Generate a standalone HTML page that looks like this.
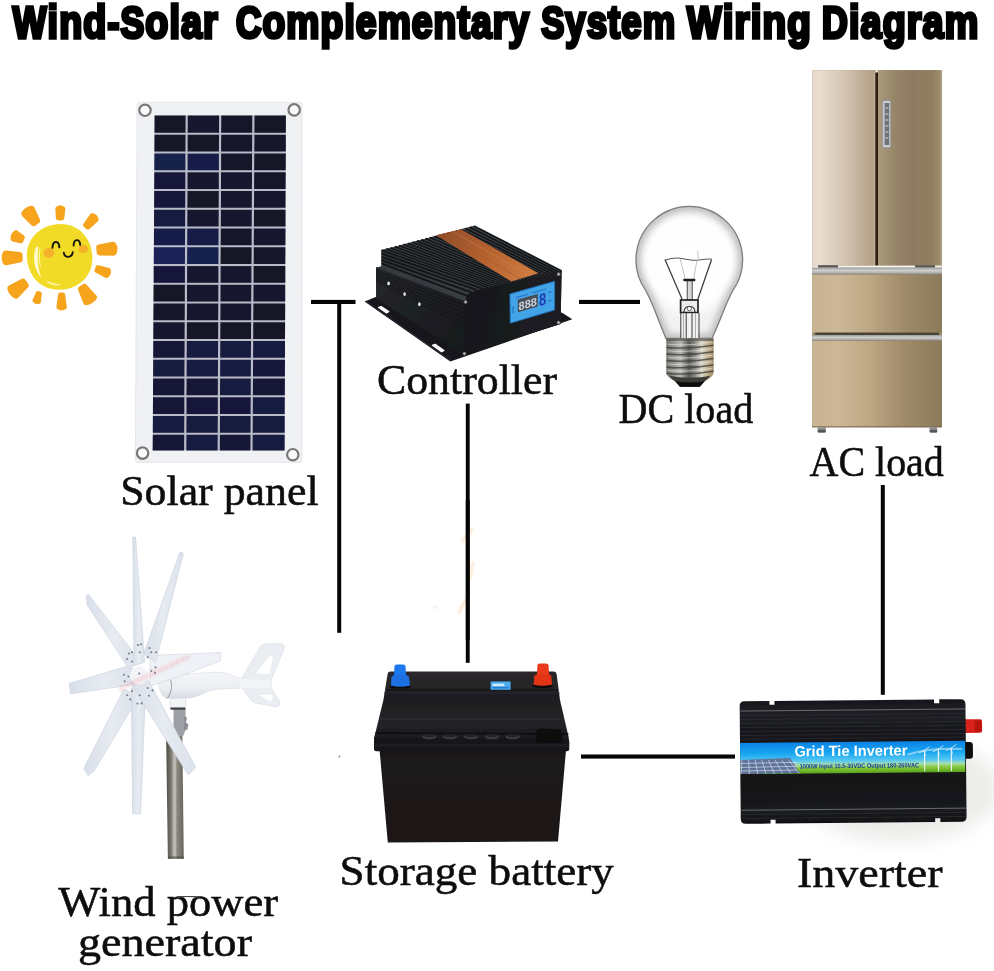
<!DOCTYPE html>
<html lang="en">
<head>
<meta charset="utf-8">
<title>Wind-Solar Complementary System Wiring Diagram</title>
<style>
html,body{margin:0;padding:0;background:#fff;}
body{width:994px;height:971px;overflow:hidden;position:relative;}
svg{display:block;position:absolute;left:0;top:0;}
.ttl{font-family:"Liberation Sans","DejaVu Sans",sans-serif;font-weight:700;fill:#000;stroke:#000;}
.lbl{font-family:"Liberation Serif","DejaVu Serif",serif;fill:#0a0a0a;}
.sans{font-family:"Liberation Sans","DejaVu Sans",sans-serif;}
</style>
</head>
<body>
<svg width="994" height="971" viewBox="0 0 994 971">
<rect width="994" height="971" fill="#ffffff"/>
<!-- defs -->
<defs>
<filter id="soft" x="-5%" y="-5%" width="110%" height="110%"><feGaussianBlur stdDeviation="0.55"/></filter>
<filter id="soft2" x="-5%" y="-5%" width="110%" height="110%"><feGaussianBlur stdDeviation="0.9"/></filter>
<filter id="blur3" x="-10%" y="-10%" width="120%" height="120%"><feGaussianBlur stdDeviation="3"/></filter>
<filter id="softT" x="-2%" y="-20%" width="104%" height="140%"><feGaussianBlur stdDeviation="0.45"/></filter>
<filter id="blur8" x="-30%" y="-30%" width="160%" height="160%"><feGaussianBlur stdDeviation="9"/></filter>
</defs>
<!-- wires -->
<g fill="#050505">
<rect x="311" y="299.9" width="44.5" height="4.1"/>
<rect x="337.2" y="300" width="4" height="332.8"/>
<rect x="579" y="299.9" width="61" height="4.1"/>
<rect x="465.8" y="403.6" width="3.9" height="259.2"/>
<rect x="581" y="754.5" width="154" height="4.1"/>
<rect x="880.8" y="485" width="4" height="209.8"/>
</g>
<g fill="none" stroke="#F6B26B" stroke-linecap="round" filter="url(#soft2)" opacity="0.4">
<path d="M462.5,541 L472.5,529" stroke-width="2.2"/>
<path d="M470.5,578 L473,562" stroke-width="2"/>
<path d="M459,613 L466.5,598" stroke-width="2.2"/>
<path d="M433,608 L437,606" stroke-width="1.6" stroke="#C8C8C8"/>
</g>
<rect x="465.8" y="500" width="3.9" height="140" fill="#050505"/>
<path d="M338.6,757.6 l1.6,-2.2" stroke="#9A9A9A" stroke-width="1.2" fill="none"/>
<!-- title -->
<text class="ttl" filter="url(#softT)" transform="translate(12.80,37.5) scale(0.8099,1)" font-size="44" stroke-width="3.6" letter-spacing="1.4" stroke-linejoin="miter" stroke-miterlimit="3">W<tspan font-size="46.5">ind</tspan>-S<tspan font-size="46.5">olar</tspan></text>
<text class="ttl" filter="url(#softT)" transform="translate(236.00,37.5) scale(0.7999,1)" font-size="44" stroke-width="3.6" letter-spacing="1.4" stroke-linejoin="miter" stroke-miterlimit="3">C<tspan font-size="46.5">omplementary</tspan></text>
<text class="ttl" filter="url(#softT)" transform="translate(541.20,37.5) scale(0.7847,1)" font-size="44" stroke-width="3.6" letter-spacing="1.4" stroke-linejoin="miter" stroke-miterlimit="3">S<tspan font-size="46.5">ystem</tspan></text>
<text class="ttl" filter="url(#softT)" transform="translate(687.00,37.5) scale(0.8303,1)" font-size="44" stroke-width="3.6" letter-spacing="1.4" stroke-linejoin="miter" stroke-miterlimit="3">W<tspan font-size="46.5">iring</tspan></text>
<text class="ttl" filter="url(#softT)" transform="translate(822.00,37.5) scale(0.8113,1)" font-size="44" stroke-width="3.6" letter-spacing="1.4" stroke-linejoin="miter" stroke-miterlimit="3">D<tspan font-size="46.5">iagram</tspan></text>
<!-- labels -->
<g class="lbl" font-size="42" filter="url(#softT)" stroke="#0a0a0a" stroke-width="0.5">
<text x="120.2" y="504.7" textLength="198.4" lengthAdjust="spacingAndGlyphs">Solar panel</text>
<text x="377" y="394.3" textLength="180" lengthAdjust="spacingAndGlyphs">Controller</text>
<text x="618.6" y="423.1" textLength="134.6" lengthAdjust="spacingAndGlyphs">DC load</text>
<text x="809.6" y="476.2" textLength="134.2" lengthAdjust="spacingAndGlyphs">AC load</text>
<text x="339.6" y="885.3" textLength="274.2" lengthAdjust="spacingAndGlyphs">Storage battery</text>
<text x="797" y="887.3" textLength="145.6" lengthAdjust="spacingAndGlyphs">Inverter</text>
<text x="58.3" y="915.8" textLength="219.7" lengthAdjust="spacingAndGlyphs">Wind power</text>
<text x="78" y="956.3" textLength="174" lengthAdjust="spacingAndGlyphs">generator</text>
</g>
<path d="M177,897.3 Q186,895.8 199.6,897" stroke="#444" stroke-width="1.3" fill="none" filter="url(#softT)"/>
<!-- sun -->
<g id="sun" filter="url(#soft)">
<g fill="#F5A41E" stroke="#F5A41E" stroke-width="3.2" stroke-linejoin="round">
<path transform="translate(31.6,216.6) rotate(-124.8)" stroke-width="5.88" d="M-6.56,-2.31 L6.56,-4.56 Q8.76,0 6.56,4.56 L-6.56,2.31 Z"/>
<path transform="translate(60.2,213.4) rotate(-88.0)" stroke-width="4.76" d="M-4.62,-1.87 L4.62,-2.62 Q6.82,0 4.62,2.62 L-4.62,1.87 Z"/>
<path transform="translate(90.4,221.9) rotate(-48.7)" stroke-width="4.48" d="M-5.76,-1.76 L5.76,-3.01 Q7.96,0 5.76,3.01 L-5.76,1.76 Z"/>
<path transform="translate(106.4,249.3) rotate(-5.0)" stroke-width="6.16" d="M-6.92,-2.42 L6.92,-3.92 Q9.12,0 6.92,3.92 L-6.92,2.42 Z"/>
<path transform="translate(102.4,271.0) rotate(22.0)" stroke-width="4.48" d="M-5.46,-1.76 L5.46,-3.01 Q7.66,0 5.46,3.01 L-5.46,1.76 Z"/>
<path transform="translate(86.4,293.8) rotate(58.0)" stroke-width="5.60" d="M-7.20,-2.20 L7.20,-4.90 Q9.40,0 7.20,4.90 L-7.20,2.20 Z"/>
<path transform="translate(61.6,300.9) rotate(90.0)" stroke-width="3.92" d="M-6.39,-1.54 L6.39,-3.29 Q8.59,0 6.39,3.29 L-6.39,1.54 Z"/>
<path transform="translate(37.8,297.1) rotate(105.0)" stroke-width="3.36" d="M-4.32,-1.32 L4.32,-2.67 Q6.52,0 4.32,2.67 L-4.32,1.32 Z"/>
<path transform="translate(18.7,287.7) rotate(143.0)" stroke-width="6.16" d="M-6.92,-2.42 L6.92,-4.67 Q9.12,0 6.92,4.67 L-6.92,2.42 Z"/>
<path transform="translate(12.7,257.6) rotate(178.0)" stroke-width="5.88" d="M-7.06,-2.31 L7.06,-4.41 Q9.26,0 7.06,4.41 L-7.06,2.31 Z"/>
<path transform="translate(18.1,237.5) rotate(-154.9)" stroke-width="4.76" d="M-3.97,-1.87 L3.97,-3.62 Q6.17,0 3.97,3.62 L-3.97,1.87 Z"/>
</g>
<path d="M27.0,257.9 C25.6,238.9 40.6,224.4 60.6,224.1 C79.6,223.9 92.8,239.9 92.4,258.9 C92.1,276.9 77.6,289.9 58.6,289.7 C39.6,289.4 28.1,274.9 27.0,257.9 Z" fill="#F1DB27"/>
<path d="M36.3,246.5 C32,257 34,270 41.4,277.5 C37.6,268 37,256.5 38.4,247 Z" fill="#FFFBD8" opacity="0.95"/>
<path d="M39.6,248.5 C37.6,256 38.6,264 41.4,269.5 C39.8,262.5 39.5,255 40.4,248.8 Z" fill="#FFF9C8" opacity="0.8"/>
<path d="M47,281.5 C51,284.6 56,285.3 59.5,284.8 C55.5,284.2 51,283.2 47,281.5 Z" fill="#FFF9C8" opacity="0.9" stroke="#FFF9C8" stroke-width="0.8"/>
<ellipse cx="48.9" cy="252.9" rx="5.4" ry="4.8" fill="#F6B02C"/>
<ellipse cx="83.3" cy="248.9" rx="4.8" ry="4.1" fill="#F6B02C"/>
<g fill="none" stroke="#17130a" stroke-width="1.9" stroke-linecap="round">
<path d="M52.5,247.8 C52.8,240.2 58.8,240.2 59.4,247.4"/>
<path d="M73.6,245.6 C73.8,238.6 79.6,238.4 80.2,244.8"/>
<path d="M63.8,252.6 C64.6,258.4 72,258.2 72.8,252.2"/>
</g>
</g>
<!-- panel -->
<g id="panel" filter="url(#soft)">
<path d="M139.2,102.4 L300.2,102.4 Q302,102.4 302,104.4 L301.9,460.4 Q301.9,462.4 299.9,462.4 L137.4,462.4 Q135.4,462.4 135.4,460.4 L137.2,104.4 Q137.2,102.4 139.2,102.4 Z" fill="#F0F1F3" stroke="#E0E2E6" stroke-width="0.8"/>
<path d="M154.6,115.6 L285.9,115.6 L284.6,450.5 L152.7,450.5 Z" fill="#B9BCC8"/>
<path d="M154.6,115.6 L185.6,115.6 L185.5,132.8 L154.5,132.8 Z" fill="#131328"/>
<path d="M187.8,115.6 L219.1,115.6 L219.0,132.8 L187.7,132.8 Z" fill="#15162F"/>
<path d="M221.3,115.6 L252.3,115.6 L252.2,132.8 L221.2,132.8 Z" fill="#14142C"/>
<path d="M254.5,115.6 L285.9,115.6 L285.8,132.8 L254.4,132.8 Z" fill="#121226"/>
<path d="M154.5,134.8 L185.5,134.8 L185.4,151.6 L154.4,151.6 Z" fill="#121226"/>
<path d="M187.7,134.8 L219.0,134.8 L218.9,151.6 L187.6,151.6 Z" fill="#131328"/>
<path d="M221.2,134.8 L252.2,134.8 L252.1,151.6 L221.1,151.6 Z" fill="#14142C"/>
<path d="M254.4,134.8 L285.8,134.8 L285.8,151.6 L254.3,151.6 Z" fill="#14142C"/>
<path d="M154.4,153.6 L185.4,153.6 L185.4,170.3 L154.3,170.3 Z" fill="#19204A"/>
<path d="M187.6,153.6 L218.9,153.6 L218.9,170.3 L187.6,170.3 Z" fill="#181F46"/>
<path d="M221.1,153.6 L252.1,153.6 L252.0,170.3 L221.1,170.3 Z" fill="#14142C"/>
<path d="M254.3,153.6 L285.8,153.6 L285.7,170.3 L254.2,170.3 Z" fill="#121226"/>
<path d="M154.3,172.3 L185.3,172.3 L185.3,189.1 L154.2,189.1 Z" fill="#15183A"/>
<path d="M187.5,172.3 L218.8,172.3 L218.8,189.1 L187.5,189.1 Z" fill="#16172F"/>
<path d="M221.0,172.3 L252.0,172.3 L251.9,189.1 L221.0,189.1 Z" fill="#15162F"/>
<path d="M254.2,172.3 L285.7,172.3 L285.6,189.1 L254.1,189.1 Z" fill="#14142C"/>
<path d="M154.2,191.1 L185.3,191.1 L185.2,207.8 L154.1,207.8 Z" fill="#15183A"/>
<path d="M187.5,191.1 L218.8,191.1 L218.7,207.8 L187.4,207.8 Z" fill="#131328"/>
<path d="M221.0,191.1 L251.9,191.1 L251.8,207.8 L220.9,207.8 Z" fill="#16172F"/>
<path d="M254.1,191.1 L285.6,191.1 L285.5,207.8 L254.0,207.8 Z" fill="#16172F"/>
<path d="M154.1,209.8 L185.2,209.8 L185.1,226.6 L154.0,226.6 Z" fill="#161B40"/>
<path d="M187.4,209.8 L218.7,209.8 L218.6,226.6 L187.3,226.6 Z" fill="#15162F"/>
<path d="M220.9,209.8 L251.8,209.8 L251.7,226.6 L220.8,226.6 Z" fill="#15162F"/>
<path d="M254.0,209.8 L285.5,209.8 L285.5,226.6 L253.9,226.6 Z" fill="#131328"/>
<path d="M154.0,228.6 L185.1,228.6 L185.0,245.3 L153.9,245.3 Z" fill="#181F4A"/>
<path d="M187.3,228.6 L218.6,228.6 L218.5,245.3 L187.2,245.3 Z" fill="#171D44"/>
<path d="M220.8,228.6 L251.7,228.6 L251.6,245.3 L220.7,245.3 Z" fill="#14142C"/>
<path d="M253.9,228.6 L285.5,228.6 L285.4,245.3 L253.8,245.3 Z" fill="#15162F"/>
<path d="M153.9,247.3 L185.0,247.3 L184.9,264.1 L153.8,264.1 Z" fill="#1A2356"/>
<path d="M187.2,247.3 L218.5,247.3 L218.4,264.1 L187.1,264.1 Z" fill="#19214E"/>
<path d="M220.7,247.3 L251.6,247.3 L251.5,264.1 L220.6,264.1 Z" fill="#131328"/>
<path d="M253.8,247.3 L285.4,247.3 L285.3,264.1 L253.7,264.1 Z" fill="#14142C"/>
<path d="M153.7,266.1 L184.9,266.1 L184.9,282.8 L153.7,282.8 Z" fill="#15183A"/>
<path d="M187.1,266.1 L218.4,266.1 L218.4,282.8 L187.1,282.8 Z" fill="#15162F"/>
<path d="M220.6,266.1 L251.4,266.1 L251.4,282.8 L220.6,282.8 Z" fill="#15162F"/>
<path d="M253.6,266.1 L285.3,266.1 L285.3,282.8 L253.6,282.8 Z" fill="#131328"/>
<path d="M153.6,284.8 L184.8,284.8 L184.8,301.6 L153.5,301.6 Z" fill="#131328"/>
<path d="M187.0,284.8 L218.3,284.8 L218.3,301.6 L187.0,301.6 Z" fill="#15162F"/>
<path d="M220.5,284.8 L251.3,284.8 L251.2,301.6 L220.5,301.6 Z" fill="#15162F"/>
<path d="M253.5,284.8 L285.2,284.8 L285.2,301.6 L253.4,301.6 Z" fill="#15162F"/>
<path d="M153.5,303.6 L184.8,303.6 L184.7,320.3 L153.4,320.3 Z" fill="#14142C"/>
<path d="M187.0,303.6 L218.3,303.6 L218.2,320.3 L186.9,320.3 Z" fill="#16172F"/>
<path d="M220.5,303.6 L251.2,303.6 L251.1,320.3 L220.4,320.3 Z" fill="#15162F"/>
<path d="M253.4,303.6 L285.2,303.6 L285.1,320.3 L253.3,320.3 Z" fill="#121226"/>
<path d="M153.4,322.3 L184.7,322.3 L184.6,339.1 L153.3,339.1 Z" fill="#16172F"/>
<path d="M186.9,322.3 L218.2,322.3 L218.1,339.1 L186.8,339.1 Z" fill="#131328"/>
<path d="M220.4,322.3 L251.1,322.3 L251.0,339.1 L220.3,339.1 Z" fill="#131328"/>
<path d="M253.3,322.3 L285.1,322.3 L285.0,339.1 L253.2,339.1 Z" fill="#131328"/>
<path d="M153.3,341.1 L184.6,341.1 L184.5,357.8 L153.2,357.8 Z" fill="#161736"/>
<path d="M186.8,341.1 L218.1,341.1 L218.0,357.8 L186.7,357.8 Z" fill="#191B40"/>
<path d="M220.3,341.1 L251.0,341.1 L250.9,357.8 L220.2,357.8 Z" fill="#181A3C"/>
<path d="M253.2,341.1 L285.0,341.1 L285.0,357.8 L253.1,357.8 Z" fill="#191B40"/>
<path d="M153.2,359.8 L184.5,359.8 L184.4,376.6 L153.1,376.6 Z" fill="#181A3C"/>
<path d="M186.7,359.8 L218.0,359.8 L217.9,376.6 L186.6,376.6 Z" fill="#191B40"/>
<path d="M220.2,359.8 L250.9,359.8 L250.8,376.6 L220.1,376.6 Z" fill="#191B40"/>
<path d="M253.1,359.8 L285.0,359.8 L284.9,376.6 L253.0,376.6 Z" fill="#17183A"/>
<path d="M153.1,378.6 L184.4,378.6 L184.3,395.3 L153.0,395.3 Z" fill="#161736"/>
<path d="M186.6,378.6 L217.9,378.6 L217.8,395.3 L186.5,395.3 Z" fill="#161736"/>
<path d="M220.1,378.6 L250.8,378.6 L250.7,395.3 L220.0,395.3 Z" fill="#191B40"/>
<path d="M253.0,378.6 L284.9,378.6 L284.8,395.3 L252.9,395.3 Z" fill="#161736"/>
<path d="M153.0,397.3 L184.3,397.3 L184.3,414.1 L152.9,414.1 Z" fill="#161736"/>
<path d="M186.5,397.3 L217.8,397.3 L217.8,414.1 L186.5,414.1 Z" fill="#17183A"/>
<path d="M220.0,397.3 L250.7,397.3 L250.6,414.1 L220.0,414.1 Z" fill="#17183A"/>
<path d="M252.9,397.3 L284.8,397.3 L284.7,414.1 L252.8,414.1 Z" fill="#191B40"/>
<path d="M152.9,416.1 L184.3,416.1 L184.2,432.8 L152.8,432.8 Z" fill="#191B40"/>
<path d="M186.5,416.1 L217.8,416.1 L217.7,432.8 L186.4,432.8 Z" fill="#181A3C"/>
<path d="M220.0,416.1 L250.6,416.1 L250.5,432.8 L219.9,432.8 Z" fill="#181A3C"/>
<path d="M252.8,416.1 L284.7,416.1 L284.7,432.8 L252.7,432.8 Z" fill="#181A3C"/>
<path d="M152.8,434.8 L184.2,434.8 L184.1,450.5 L152.7,450.5 Z" fill="#161736"/>
<path d="M186.4,434.8 L217.7,434.8 L217.6,450.5 L186.3,450.5 Z" fill="#191B40"/>
<path d="M219.9,434.8 L250.5,434.8 L250.4,450.5 L219.8,450.5 Z" fill="#161736"/>
<path d="M252.7,434.8 L284.7,434.8 L284.6,450.5 L252.6,450.5 Z" fill="#191B40"/>
<circle cx="145" cy="110.3" r="5.7" fill="#FAFAFA" stroke="#77787A" stroke-width="2.2"/>
<circle cx="294.2" cy="109.9" r="5.7" fill="#FAFAFA" stroke="#77787A" stroke-width="2.2"/>
<circle cx="142.6" cy="453.1" r="5.7" fill="#FAFAFA" stroke="#77787A" stroke-width="2.2"/>
<circle cx="292.8" cy="454.7" r="5.7" fill="#FAFAFA" stroke="#77787A" stroke-width="2.2"/>
</g>
<!-- controller -->
<g id="controller" filter="url(#soft)">
<path d="M364.6,301.6 L377.0,296.5 L470.0,340.0 L561.7,312.4 L572.3,319.3 L450.3,361.6 Z" fill="#14161A"/>
<path d="M365.5,301.3 L451,360.6" stroke="#2c3036" stroke-width="1" fill="none"/>
<path d="M378.6,307.4 L381.2,306.6 L388.8,311.6 L386.6,313 Z" fill="#fff" stroke="#fff" stroke-width="1.2" stroke-linejoin="round"/>
<path d="M432.4,345.2 L435.2,344.2 L444,350.4 L441.6,351.8 Z" fill="#fff" stroke="#fff" stroke-width="1.2" stroke-linejoin="round"/>
<path d="M376.2,298.5 L376.0,267.4 L381.5,266.6 L381.5,250.2 L473.9,226.0 L561.6,271.0 L560.6,324.0 L463.8,354.4 Z" fill="#1B1D21"/>
<linearGradient id="finG" x1="380" y1="250" x2="560" y2="275" gradientUnits="userSpaceOnUse"><stop offset="0" stop-color="#33393D"/><stop offset="0.5" stop-color="#373D42"/><stop offset="1" stop-color="#2A2F34"/></linearGradient>
<path d="M376.0,267.4 L381.5,266.6 L381.5,250.2 L473.9,226.0 L561.6,271.0 L489.0,287.6 L476.0,290.4 L467.0,294.5 L465.4,301.5 Z" fill="url(#finG)"/>
<g stroke="#121417" stroke-width="1.9" fill="none">
<path d="M381.5,263.3 L466.8,295.6"/>
<path d="M381.5,260.0 L471.5,292.4"/>
<path d="M381.5,256.8 L477.1,290.2"/>
<path d="M381.5,253.5 L483.1,288.9"/>
<path d="M381.5,250.2 L489.0,287.6"/>
<path d="M385.9,249.0 L492.5,286.8"/>
<path d="M390.3,247.9 L495.9,286.0"/>
<path d="M394.7,246.7 L499.4,285.2"/>
<path d="M399.1,245.6 L502.8,284.4"/>
<path d="M403.5,244.4 L506.3,283.6"/>
<path d="M407.9,243.3 L509.7,282.9"/>
<path d="M412.3,242.1 L513.2,282.1"/>
<path d="M416.7,241.0 L516.7,281.3"/>
<path d="M421.1,239.8 L520.1,280.5"/>
<path d="M425.5,238.7 L523.6,279.7"/>
<path d="M429.9,237.5 L527.0,278.9"/>
<path d="M434.3,236.4 L530.5,278.1"/>
<path d="M438.7,235.2 L533.9,277.3"/>
<path d="M443.1,234.1 L537.4,276.5"/>
<path d="M447.5,232.9 L540.9,275.7"/>
<path d="M451.9,231.8 L544.3,275.0"/>
<path d="M456.3,230.6 L547.8,274.2"/>
<path d="M460.7,229.5 L551.2,273.4"/>
<path d="M465.1,228.3 L554.7,272.6"/>
<path d="M469.5,227.2 L558.1,271.8"/>
<path d="M473.9,226.0 L561.6,271.0"/>
</g>
<g stroke="#4A5157" stroke-width="0.7" fill="none" opacity="0.7">
<path d="M383.7,249.6 L490.7,287.2"/>
<path d="M388.1,248.5 L494.2,286.4"/>
<path d="M392.5,247.3 L497.6,285.6"/>
<path d="M396.9,246.2 L501.1,284.8"/>
<path d="M401.3,245.0 L504.6,284.0"/>
<path d="M405.7,243.9 L508.0,283.3"/>
<path d="M410.1,242.7 L511.5,282.5"/>
<path d="M414.5,241.6 L514.9,281.7"/>
<path d="M418.9,240.4 L518.4,280.9"/>
<path d="M423.3,239.3 L521.8,280.1"/>
<path d="M427.7,238.1 L525.3,279.3"/>
<path d="M432.1,236.9 L528.8,278.5"/>
<path d="M436.5,235.8 L532.2,277.7"/>
<path d="M440.9,234.6 L535.7,276.9"/>
<path d="M445.3,233.5 L539.1,276.1"/>
<path d="M449.7,232.3 L542.6,275.3"/>
<path d="M454.1,231.2 L546.0,274.6"/>
<path d="M458.5,230.0 L549.5,273.8"/>
<path d="M462.9,228.9 L553.0,273.0"/>
<path d="M467.3,227.7 L556.4,272.2"/>
<path d="M471.7,226.6 L559.9,271.4"/>
</g>
<linearGradient id="woodG" x1="448" y1="232" x2="525" y2="278" gradientUnits="userSpaceOnUse"><stop offset="0" stop-color="#96502C"/><stop offset="0.5" stop-color="#B5622F"/><stop offset="1" stop-color="#CC7840"/></linearGradient>
<path d="M435.8,235.2 L461.1,229.2 L538.4,273.2 L511.4,281.6 Z" fill="url(#woodG)"/>
<path d="M444,233.6 L520.5,279" stroke="#A4552A" stroke-width="0.8" opacity="0.7"/><path d="M453,231.4 L530,276.2" stroke="#D88A50" stroke-width="0.7" opacity="0.6"/>
<linearGradient id="lfG" x1="376" y1="270" x2="464" y2="350" gradientUnits="userSpaceOnUse"><stop offset="0" stop-color="#24272B"/><stop offset="1" stop-color="#17191C"/></linearGradient>
<path d="M376.0,267.4 L465.4,301.5 L463.8,354.4 L376.4,298.5 Z" fill="url(#lfG)"/>
<g stroke="#101114" stroke-width="0.9" fill="none" opacity="0.8">
<path d="M376.0,269.8 L465.3,305.6"/>
<path d="M376.1,272.2 L465.2,309.6"/>
<path d="M376.1,274.6 L465.0,313.7"/>
<path d="M376.1,277.0 L464.9,317.8"/>
<path d="M376.2,279.4 L464.8,321.8"/>
<path d="M376.2,281.8 L464.7,325.9"/>
</g>
<ellipse cx="388.6" cy="283.4" rx="1.3" ry="1.9" fill="#E8E8E8"/>
<ellipse cx="404.6" cy="294.1" rx="1.3" ry="1.9" fill="#E8E8E8"/>
<ellipse cx="419.4" cy="304.2" rx="1.3" ry="1.9" fill="#E8E8E8"/>
<linearGradient id="ffG" x1="465" y1="300" x2="560" y2="320" gradientUnits="userSpaceOnUse"><stop offset="0" stop-color="#15171A"/><stop offset="1" stop-color="#1D1F23"/></linearGradient>
<path d="M465.4,301.5 C466,295 470,291.5 489,287.6 L561.6,271 L560.6,324 L463.8,354.4 Z" fill="url(#ffG)"/>
<path d="M509.9,294.0 L554.6,281.3 L554.6,310.0 L510.3,323.2 Z" fill="#43A3E6" stroke="#1D6FB8" stroke-width="0.9"/>
<path d="M517.8,299.6 L537.8,294.0 L537.8,306.6 L517.8,312.2 Z" fill="#4A4E58"/>
<text class="sans" transform="matrix(1,-0.28,0,1,518.6,310.4)" font-size="11.5" font-weight="700" fill="#C9D2DC" textLength="18.4" lengthAdjust="spacingAndGlyphs">888</text>
<text class="sans" transform="matrix(1,-0.28,0,1,538.9,306.2)" font-size="17" font-weight="700" fill="#1A3CB4" textLength="7.2" lengthAdjust="spacingAndGlyphs">8</text>
<path d="M516,297.6 L528,294.2 M532,293 L546,289" stroke="#1F63C0" stroke-width="1.1" opacity="0.7"/>
<path d="M513,306 L513,313" stroke="#1F63C0" stroke-width="1.2" opacity="0.7"/><path d="M548.5,292.5 L551.5,291.7 M548.5,301 L551.5,300.2" stroke="#1F63C0" stroke-width="1.3" opacity="0.7"/>
<circle cx="465.6" cy="302" r="1.6" fill="#C4C4C4" stroke="#4A4A4A" stroke-width="0.7"/>
<circle cx="558.6" cy="274.2" r="1.6" fill="#C4C4C4" stroke="#4A4A4A" stroke-width="0.7"/>
<circle cx="558.6" cy="322.6" r="1.6" fill="#C4C4C4" stroke="#4A4A4A" stroke-width="0.7"/>
<circle cx="464.4" cy="353.6" r="1.6" fill="#C4C4C4" stroke="#4A4A4A" stroke-width="0.7"/>
</g>
<!-- bulb -->
<g id="bulb" filter="url(#soft)">
<radialGradient id="glassG" cx="689.3" cy="262" r="56" gradientUnits="userSpaceOnUse">
<stop offset="0" stop-color="#FFFFFF"/><stop offset="0.75" stop-color="#FEFEFE"/><stop offset="1" stop-color="#F2F2F2"/></radialGradient>
<linearGradient id="neckG" x1="645" y1="0" x2="733" y2="0" gradientUnits="userSpaceOnUse">
<stop offset="0" stop-color="#D0D0D0"/><stop offset="0.18" stop-color="#F4F4F4"/><stop offset="0.4" stop-color="#FFFFFF"/><stop offset="0.62" stop-color="#FFFFFF"/><stop offset="0.84" stop-color="#F2F2F2"/><stop offset="1" stop-color="#CCCCCC"/></linearGradient>
<linearGradient id="baseG" x1="666" y1="0" x2="714" y2="0" gradientUnits="userSpaceOnUse">
<stop offset="0" stop-color="#77766F"/><stop offset="0.12" stop-color="#8C8B85"/><stop offset="0.3" stop-color="#B9B8B2"/><stop offset="0.48" stop-color="#5A5954"/><stop offset="0.6" stop-color="#8B8A84"/><stop offset="0.74" stop-color="#DAD6CC"/><stop offset="0.9" stop-color="#BBA680"/><stop offset="1" stop-color="#9A8A6A"/></linearGradient>
<path d="M665.9,338.4 L660.1,324 C656.4,314.6 651.4,300.4 645.4,290 A53.3,53.3 0 1 1 733.2,290 C727.2,300.4 722.2,314.6 718.3,324 L712,338.4 Z" fill="url(#glassG)"/>
<clipPath id="glassC"><path d="M665.9,338.4 L660.1,324 C656.4,314.6 651.4,300.4 645.4,290 A53.3,53.3 0 1 1 733.2,290 C727.2,300.4 722.2,314.6 718.3,324 L712,338.4 Z"/></clipPath>
<g clip-path="url(#glassC)"><path d="M665.9,338.4 L660.1,324 C656.4,314.6 651.4,300.4 645.4,290 A53.3,53.3 0 1 1 733.2,290 C727.2,300.4 722.2,314.6 718.3,324 L712,338.4 Z" fill="none" stroke="#B4B4B4" stroke-width="9" filter="url(#blur3)" opacity="0.85"/></g>
<path d="M665.9,338.4 L660.1,324 C656.4,314.6 651.4,300.4 645.4,290 A53.3,53.3 0 1 1 733.2,290 C727.2,300.4 722.2,314.6 718.3,324 L712,338.4 Z" fill="none" stroke="#7C7C7C" stroke-width="1.3"/>
<g fill="none" stroke-linecap="round">
<path d="M665.2,260 L681.9,298.8 M711.4,260 L698,298.8" stroke="#3A3A3A" stroke-width="1.25"/>
<path d="M665.2,260 C672,258 676,257.6 680,258.2 C686,259.4 692,260.8 697,260.2 C702,259.6 706,258.6 711.4,259" stroke="#5A5A5A" stroke-width="1.1"/>
<path d="M680,258.2 L685.2,279 M697,260.2 L693.6,279" stroke="#A8A8A8" stroke-width="0.7"/>
<path d="M697.5,251 L698.5,259" stroke="#DDD" stroke-width="1.6"/>
</g>
<rect x="687.2" y="280.5" width="5" height="19.5" fill="#D8D8D8" stroke="#3A3A3A" stroke-width="0.9"/>
<rect x="683.2" y="278.8" width="12.2" height="2.4" rx="1" fill="#1E1E1E"/>
<rect x="680.6" y="300" width="17.4" height="12.6" fill="#EDEDED" stroke="#222" stroke-width="1.7"/>
<path d="M684,312 C684,304.5 695,304.5 695,312" fill="none" stroke="#333" stroke-width="1.2"/>
<circle cx="689.4" cy="308.6" r="2.1" fill="#fff" stroke="#555" stroke-width="0.9"/>
<rect x="681.5" y="313.4" width="16.8" height="25" fill="#F1F1F1"/>
<path d="M680.8,313 L680.8,338.4 M686.2,313 L686.2,338.4 M692,313 L692,338.4 M699,313 L699,338.4" stroke="#3C3C3C" stroke-width="1" fill="none"/>
<path d="M683.5,313 L683.5,338.4 M695.5,313 L695.5,338.4" stroke="#9A9A9A" stroke-width="0.8" fill="none"/>
<path d="M666.3,338.4 L713.6,338.4 L713.6,372 C713.6,376 709,379.5 705,381 L699.8,386.8 L680,386.8 L675,381 C671,379.5 666.3,376 666.3,372 Z" fill="url(#baseG)"/>
<rect x="666.3" y="338.4" width="47.3" height="2.4" fill="#55544F" opacity="0.75"/>
<g fill="none" stroke="#3B3A36" stroke-width="1.5" opacity="0.75">
<path d="M666.3,347.4 C682,348.8 698,347.8 713.6,345.2"/>
<path d="M666.3,354.0 C682,355.4 698,354.4 713.6,351.8"/>
<path d="M666.3,360.6 C682,362.0 698,361.0 713.6,358.4"/>
<path d="M666.3,367.2 C682,368.6 698,367.6 713.6,365.0"/>
<path d="M666.3,373.4 C682,374.8 698,373.8 713.6,371.2"/>
</g>
<g fill="none" stroke="#F0EEE8" stroke-width="1.1" opacity="0.55">
<path d="M668,344.2 C682,345.6 698,344.6 712,342.0"/>
<path d="M668,350.8 C682,352.2 698,351.2 712,348.6"/>
<path d="M668,357.4 C682,358.8 698,357.8 712,355.2"/>
<path d="M668,364.0 C682,365.4 698,364.4 712,361.8"/>
<path d="M668,370.4 C682,371.8 698,370.8 712,368.2"/>
</g>
<path d="M669.5,375.6 C680,378.6 700,378.6 710.4,375.6 C708,379 706,380.4 704.6,381.4 L699.8,386.8 L680,386.8 L675.2,381.4 C673.5,380.4 671.5,379 669.5,375.6 Z" fill="#3A3A38"/>
<path d="M675.4,381.2 C683,382.8 697,382.8 704.4,381.2 L699.8,386.8 L680,386.8 Z" fill="#0C0C0C"/>
</g>
<!-- fridge -->
<g id="fridge" filter="url(#soft)">
<linearGradient id="fdL" x1="812.6" y1="0" x2="876" y2="0" gradientUnits="userSpaceOnUse">
<stop offset="0" stop-color="#E6D8CA"/><stop offset="0.1" stop-color="#EADDD0"/><stop offset="0.5" stop-color="#D4C4B2"/><stop offset="0.85" stop-color="#BBA890"/><stop offset="1" stop-color="#B29E84"/></linearGradient>
<linearGradient id="fdR" x1="877" y1="0" x2="941.7" y2="0" gradientUnits="userSpaceOnUse">
<stop offset="0" stop-color="#AC9C7E"/><stop offset="0.25" stop-color="#98876A"/><stop offset="0.55" stop-color="#8C7A60"/><stop offset="0.85" stop-color="#907E62"/><stop offset="0.96" stop-color="#9C8A6C"/><stop offset="1" stop-color="#B0A088"/></linearGradient>
<linearGradient id="fdD" x1="812.6" y1="0" x2="941.7" y2="0" gradientUnits="userSpaceOnUse">
<stop offset="0" stop-color="#C8B492"/><stop offset="0.2" stop-color="#CCB896"/><stop offset="0.45" stop-color="#BCA684"/><stop offset="0.7" stop-color="#A08C69"/><stop offset="1" stop-color="#8C7A5A"/></linearGradient>
<linearGradient id="silv" x1="0" y1="0" x2="0" y2="1"><stop offset="0" stop-color="#9A9A98"/><stop offset="0.4" stop-color="#CFCFCD"/><stop offset="0.75" stop-color="#B0B0AE"/><stop offset="1" stop-color="#7E7C78"/></linearGradient>
<rect x="812.2" y="70.2" width="129.69999999999993" height="357" fill="#9A8564"/>
<rect x="812.2" y="70.2" width="63.59999999999991" height="195.4" fill="url(#fdL)"/>
<rect x="877.6" y="70.2" width="64.29999999999995" height="195.4" fill="url(#fdR)"/>
<rect x="873.6" y="72" width="2" height="193.6" fill="#C4B4A0" opacity="0.7"/><rect x="875.4" y="72.4" width="2.6" height="193.2" fill="#2E1C10"/>
<path d="M875.2,70.2 L876.7,73 L878.2,70.2 Z" fill="#fff"/>
<rect x="882.4" y="100.4" width="8.4" height="47.4" rx="1.6" fill="#C9CCD0" stroke="#85878A" stroke-width="0.7"/>
<rect x="884.6" y="103" width="4.6" height="42" fill="#6E7378"/>
<path d="M885.4,108 h3 M885.4,114 h3 M885.4,120 h3 M885.4,126 h3 M885.4,132 h3 M885.4,138 h3" stroke="#D8DCE0" stroke-width="1.2"/>
<rect x="812.2" y="265.6" width="129.69999999999993" height="2.2" fill="#F4F2EE"/>
<rect x="818" y="265.2" width="20" height="2.4" fill="#555"/><rect x="915" y="265.2" width="20" height="2.4" fill="#555"/>
<rect x="812.2" y="267.6" width="129.69999999999993" height="7" fill="url(#silv)"/>
<rect x="812.2" y="274.6" width="129.69999999999993" height="58" fill="url(#fdD)"/>
<rect x="815.2" y="332.6" width="123.69999999999993" height="2.4" fill="#4A4238"/>
<rect x="812.2" y="335" width="129.69999999999993" height="5.8" fill="url(#silv)"/>
<rect x="812.2" y="340.8" width="129.69999999999993" height="86.4" fill="url(#fdD)"/>
<rect x="812.2" y="426" width="129.69999999999993" height="1.4" fill="#7A6A50" opacity="0.7"/>
<rect x="817.6" y="427.2" width="8.2" height="5.2" rx="1" fill="#8A8A8C"/><rect x="929.6" y="427.2" width="7.6" height="5.2" rx="1" fill="#8A8A8C"/>
<rect x="817.6" y="430" width="8.2" height="2.4" rx="1" fill="#55565A"/><rect x="929.6" y="430" width="7.6" height="2.4" rx="1" fill="#55565A"/>
</g>
<!-- turbine -->
<g id="turbine" filter="url(#soft)">
<linearGradient id="poleG" x1="167" y1="0" x2="183.2" y2="0" gradientUnits="userSpaceOnUse">
<stop offset="0" stop-color="#56544B"/><stop offset="0.25" stop-color="#7C7A70"/><stop offset="0.48" stop-color="#C9C7C0"/><stop offset="0.62" stop-color="#8A887E"/><stop offset="1" stop-color="#6A685E"/></linearGradient>
<linearGradient id="nacG" x1="0" y1="670" x2="0" y2="700" gradientUnits="userSpaceOnUse"><stop offset="0" stop-color="#F6F7F9"/><stop offset="0.6" stop-color="#ECEEF2"/><stop offset="1" stop-color="#D4D8DF"/></linearGradient>
<linearGradient id="blG" x1="0" y1="0" x2="1" y2="0"><stop offset="0" stop-color="#D9DFE9"/><stop offset="0.5" stop-color="#E7EBF2"/><stop offset="1" stop-color="#DCE2EB"/></linearGradient>
<path d="M166.1,735 L182.3,735 L183.8,858.8 L167.9,858.8 Z" fill="url(#poleG)"/>
<path d="M167.9,856.4 L183.8,856.4 L183.8,858.8 L167.9,858.8 Z" fill="#4a483f" opacity="0.6"/>
<path d="M173.5,709 L185.6,709 L185.6,730 L182.9,736.3 L173.5,736.3 Z" fill="#9DA1A6"/>
<path d="M184,716 l3,1.5 l-1,5 l2.4,2 l-1,5 l-3.4,1 Z" fill="#8C9094"/>
<rect x="170.2" y="696" width="15.4" height="11.6" fill="#F3F4F6" stroke="#D5D8DD" stroke-width="0.6"/>
<rect x="170.4" y="707.5" width="15" height="2.2" fill="#3E4146"/>
<path d="M160,678 C172,675.5 200,672.6 220.9,672.2 C230,673.6 236,677 240.5,678.2 L270.8,680.6 L270.8,688.2 L240.5,688.2 C228,688.6 218,688.8 210.4,690.6 C202,693.6 196,697.6 189.2,698 L166,698.4 C160,694 157,686 160,678 Z" fill="url(#nacG)" stroke="#D9DCE2" stroke-width="0.6"/>
<path d="M169,676.5 C173,683 172,692 167.5,698" fill="none" stroke="#6F747B" stroke-width="0.8" opacity="0.8"/>
<path d="M242.8,676.8 L260.6,646 Q261.8,644.2 264,644.1 L280.4,643.6 Q284.8,643.8 284.2,648.4 L271.2,680 L270.9,687.4 L279.6,701.6 Q280.6,706.6 276,706.8 L254.6,702.8 Q252.6,702.4 251.4,700.8 L242.8,688.8 Z" fill="#EAEDF2" stroke="#DCDFE6" stroke-width="0.7" stroke-linejoin="round"/>
<path d="M269.6,655.4 Q271.6,654.6 272.8,657.6 L269.4,673.8 L256,673.8 Z" fill="#FFFFFF"/>
<path d="M259.6,695.2 L271.6,694.6 L273,697.6 L270.6,701.6 Z" fill="#FFFFFF"/>
<path d="M240,678.4 L270.8,680.6 L270.8,688.2 L240,688.2 Z" fill="#F3F4F7"/>
<path d="M69.3,683.4 L131.4,665.0 L137.0,684.0 L70.4,693.8 Z" fill="url(#blG)" stroke="#CDD4DF" stroke-width="0.7" stroke-linejoin="round"/>
<path d="M150.0,655.4 L220.9,652.6 L220.3,661.0 L174.0,678.4 L150.0,686.0 Z" fill="#EEF1F5" stroke="#D6DAE3" stroke-width="0.7"/>
<path d="M86.0,596.0 L88.6,594.6 L140.0,661.0 L129.0,669.0 L87.2,605.0 Z" fill="url(#blG)" stroke="#CDD4DF" stroke-width="0.7" stroke-linejoin="round"/>
<path d="M132.8,537.0 L135.6,537.0 L144.6,662.0 L134.0,666.0 Z" fill="url(#blG)" stroke="#CDD4DF" stroke-width="0.7" stroke-linejoin="round"/>
<path d="M180.0,552.0 L183.4,553.4 L155.6,662.0 L143.6,654.0 Z" fill="url(#blG)" stroke="#CDD4DF" stroke-width="0.7" stroke-linejoin="round"/>
<path d="M124.0,689.0 L139.0,696.0 L94.4,770.6 L88.2,775.8 L83.8,768.6 Z" fill="url(#blG)" stroke="#CDD4DF" stroke-width="0.7" stroke-linejoin="round"/>
<path d="M131.4,688.0 L145.6,688.0 L140.6,813.8 L132.6,813.8 Z" fill="url(#blG)" stroke="#CDD4DF" stroke-width="0.7" stroke-linejoin="round"/>
<path d="M141.0,667.0 L195.6,767.1 L188.3,775.1 L131.0,684.0 Z" fill="url(#blG)" stroke="#CDD4DF" stroke-width="0.7" stroke-linejoin="round"/>
<circle cx="139" cy="675.5" r="9" fill="#F2F4F8"/>
<path d="M124.5,662 A17,17 0 0 1 137,650.5" fill="none" stroke="#D5DAE2" stroke-width="0.8"/>
<g fill="#7A808A">
<circle cx="138" cy="645.1" r="1.05"/>
<circle cx="141" cy="644.2" r="1.05"/>
<circle cx="139.8" cy="652.3" r="1.05"/>
<circle cx="149.5" cy="648.1" r="1.05"/>
<circle cx="151.3" cy="652.3" r="1.05"/>
<circle cx="156.1" cy="652.3" r="1.05"/>
<circle cx="147.7" cy="657.2" r="1.05"/>
<circle cx="129" cy="653.5" r="1.05"/>
<circle cx="132" cy="652.3" r="1.05"/>
<circle cx="127.2" cy="659" r="1.05"/>
<circle cx="132" cy="661.6" r="1.05"/>
<circle cx="155.5" cy="667.4" r="1.05"/>
<circle cx="154.9" cy="672.9" r="1.05"/>
<circle cx="151.3" cy="671" r="1.05"/>
<circle cx="139.2" cy="673.5" r="1.05"/>
<circle cx="124.1" cy="674.7" r="1.05"/>
<circle cx="128.4" cy="676.5" r="1.05"/>
<circle cx="124.7" cy="681.3" r="1.05"/>
<circle cx="132" cy="691" r="1.05"/>
<circle cx="127.2" cy="695.2" r="1.05"/>
<circle cx="130.2" cy="699.4" r="1.05"/>
<circle cx="139.8" cy="695.2" r="1.05"/>
<circle cx="137.4" cy="703.6" r="1.05"/>
<circle cx="141.7" cy="703.4" r="1.05"/>
<circle cx="147.7" cy="688" r="1.05"/>
<circle cx="152.5" cy="690.4" r="1.05"/>
<circle cx="148.9" cy="695.8" r="1.05"/>
</g>
<path d="M119,689.5 L189,656.5" stroke="#F29AA2" stroke-width="5" opacity="0.3" stroke-dasharray="5 1.2" filter="url(#soft2)"/>
</g>
<!-- battery -->
<g id="battery" filter="url(#soft)">
<linearGradient id="batB" x1="0" y1="745" x2="0" y2="842" gradientUnits="userSpaceOnUse"><stop offset="0" stop-color="#151414"/><stop offset="0.15" stop-color="#1C1A1A"/><stop offset="1" stop-color="#1A1818"/></linearGradient>
<linearGradient id="batT" x1="0" y1="672" x2="0" y2="751" gradientUnits="userSpaceOnUse"><stop offset="0" stop-color="#2A282A"/><stop offset="0.25" stop-color="#242326"/><stop offset="0.26" stop-color="#1E1E22"/><stop offset="0.68" stop-color="#222226"/><stop offset="0.8" stop-color="#1B1B1E"/><stop offset="0.9" stop-color="#161618"/><stop offset="0.92" stop-color="#1E1E22"/><stop offset="1" stop-color="#121214"/></linearGradient>
<path d="M379.4,748.0 L566.2,748.0 L558.0,841.4 L387.8,842.6 Z" fill="url(#batB)"/>
<path d="M390.4,671.6 L553.6,671.6 Q556,671.6 556.6,674 L560,700 L568.6,737 L569.4,743 L569.2,749.4 Q569,751.2 567,751.2 L376.4,751.2 Q374,751.2 374,749.4 L374,738 L375.6,732 L383.4,700 L387.6,674 Q388,671.6 390.4,671.6 Z" fill="url(#batT)"/>
<path d="M386.4,689.8 L557.6,689.8" stroke="#101012" stroke-width="1.2"/>
<path d="M384,693 L560,693" stroke="#34343A" stroke-width="0.8" opacity="0.8"/>
<path d="M379.6,719 L564,719" stroke="#3A3A40" stroke-width="0.9" opacity="0.8"/>
<path d="M375.4,733 L568.4,734" stroke="#0C0C0E" stroke-width="1.4"/>
<ellipse cx="429.4" cy="736.6" rx="7.2" ry="2.6" fill="#3C3C42"/>
<ellipse cx="429.4" cy="735.6" rx="6" ry="1.6" fill="#202024"/>
<ellipse cx="450" cy="736.6" rx="7.2" ry="2.6" fill="#3C3C42"/>
<ellipse cx="450" cy="735.6" rx="6" ry="1.6" fill="#202024"/>
<ellipse cx="471" cy="736.6" rx="7.2" ry="2.6" fill="#3C3C42"/>
<ellipse cx="471" cy="735.6" rx="6" ry="1.6" fill="#202024"/>
<ellipse cx="492" cy="736.6" rx="7.2" ry="2.6" fill="#3C3C42"/>
<ellipse cx="492" cy="735.6" rx="6" ry="1.6" fill="#202024"/>
<ellipse cx="512.7" cy="736.6" rx="7.2" ry="2.6" fill="#3C3C42"/>
<ellipse cx="512.7" cy="735.6" rx="6" ry="1.6" fill="#202024"/>
<path d="M536,731 Q537,728.2 541,728.4 L561,729.6 L563.4,742.6 L536.4,742.6 Z" fill="#0C0C0D"/>
<path d="M391.2,686.4 L391.6,677.4 Q392,675.6 394,675.2 L394.4,666.4 Q394.6,664.4 397,664.4 L403,664.4 Q405.4,664.4 405.6,666.4 L406,675.2 Q408.6,675.6 409,677.4 L409.6,686.4 Z" fill="#1C78EC"/>
<path d="M391.4,681 L409.4,681 L409.6,686.4 L391.2,686.4 Z" fill="#1660D0" opacity="0.7"/>
<ellipse cx="400.4" cy="686.8" rx="11" ry="2" fill="#0E0E10"/>
<path d="M533.8,685.4 L534.4,676.6 Q534.8,674.8 537,674.4 L537.4,665.6 Q537.6,663.6 540,663.6 L546,663.6 Q548.4,663.6 548.6,665.6 L549,674.4 Q551,674.8 551.2,676.6 L551.6,685.4 Z" fill="#EC3A1A"/>
<path d="M534,680 L551.4,680 L551.6,685.4 L533.8,685.4 Z" fill="#C82A10" opacity="0.7"/>
<ellipse cx="542.8" cy="686" rx="10.6" ry="2" fill="#0E0E10"/>
<path d="M391.2,685.6 L391.6,677.4 Q392,675.6 394,675.2 L406,675.2 Q408.6,675.6 409,677.4 L409.6,685.6 Q400,688 391.2,685.6 Z" fill="#1A6FE2"/>
<path d="M533.8,684.6 L534.4,676.6 Q534.8,674.8 537,674.4 L549,674.4 Q551,674.8 551.2,676.6 L551.6,684.6 Q542,687 533.8,684.6 Z" fill="#E23416"/>
<rect x="490.6" y="681.4" width="20" height="8.4" fill="#49A9EC"/>
<rect x="492.4" y="683.6" width="12" height="2.6" fill="#DDF0FC" opacity="0.9"/><rect x="492.4" y="687" width="16" height="1.4" fill="#1F6FC8" opacity="0.8"/>
</g>
<!-- inverter -->
<g id="inverter" filter="url(#soft)"><g transform="rotate(-0.55 853 761.5)">
<linearGradient id="invB" x1="0" y1="700" x2="0" y2="823" gradientUnits="userSpaceOnUse"><stop offset="0" stop-color="#15161A"/><stop offset="0.08" stop-color="#1E1F24"/><stop offset="0.3" stop-color="#15161A"/><stop offset="0.62" stop-color="#121215"/><stop offset="0.9" stop-color="#1A1B1F"/><stop offset="1" stop-color="#101013"/></linearGradient>
<linearGradient id="invL" x1="0" y1="741.8" x2="0" y2="773" gradientUnits="userSpaceOnUse"><stop offset="0" stop-color="#0C82E6"/><stop offset="0.35" stop-color="#18A6F0"/><stop offset="0.6" stop-color="#56C6F2"/><stop offset="0.72" stop-color="#A6DEB0"/><stop offset="0.84" stop-color="#86C83A"/><stop offset="1" stop-color="#5AA31C"/></linearGradient>
<ellipse cx="900" cy="790" rx="100" ry="52" fill="#DCDDD8" opacity="0.55" filter="url(#blur8)" id="invShadow"/>
<rect x="962" y="720.4" width="20.4" height="13.6" rx="2" fill="#D8201C"/>
<rect x="975" y="721.4" width="6.6" height="11.6" rx="1.5" fill="#B81410"/>
<rect x="962" y="743" width="11" height="16.8" rx="3" fill="#0E0E10"/>
<path d="M745,700.2 L770,700.2 L770,704 L775,704 L775,700.2 L934.6,700.2 L934.6,704 L939.8,704 L939.8,700.2 L961,700.2 Q966,700.2 966,705 L966,818 Q966,822.8 961,822.8 L939.8,822.8 L939.8,819 L934.6,819 L934.6,822.8 L775,822.8 L775,819 L770,819 L770,822.8 L745,822.8 Q740.2,822.8 740.2,818 L740.2,705 Q740.2,700.2 745,700.2 Z" fill="url(#invB)"/>
<path d="M741,710 L965.4,710" stroke="#8C9098" stroke-width="0.9" opacity="0.75"/>
<path d="M741,809.2 L965.4,809.2" stroke="#8C9098" stroke-width="0.9" opacity="0.75"/>
<g stroke="#2E3036" stroke-width="0.8" opacity="0.9">
<path d="M741,714.5 L965.4,714.5"/>
<path d="M741,718.5 L965.4,718.5"/>
<path d="M741,722.5 L965.4,722.5"/>
<path d="M741,726.5 L965.4,726.5"/>
<path d="M741,730.5 L965.4,730.5"/>
<path d="M741,734.5 L965.4,734.5"/>
<path d="M741,738.2 L965.4,738.2"/>
<path d="M741,813.5 L965.4,813.5"/>
<path d="M741,817.5 L965.4,817.5"/>
</g>
<rect x="740.2" y="741.8" width="225" height="31.2" fill="url(#invL)"/>
<path d="M740.2,759 L790,757.4 L800,772.6 L740.2,773 Z" fill="#5E7299"/>
<g stroke="#E8EEF6" stroke-width="0.7" opacity="0.85" fill="none">
<path d="M742.0,759 L741.0,773"/>
<path d="M748.6,759 L749.3,773"/>
<path d="M755.2,759 L757.6,773"/>
<path d="M761.8,759 L765.9,773"/>
<path d="M768.4,759 L774.2,773"/>
<path d="M775.0,759 L782.5,773"/>
<path d="M781.6,759 L790.8,773"/>
<path d="M788.2,759 L799.1,773"/>
<path d="M740.2,762.4 L797,761.8"/>
<path d="M740.2,766.4 L797,765.8"/>
<path d="M740.2,770 L797,769.4"/>
</g>
<g stroke="#F4F8FA" stroke-width="1.1" fill="none" opacity="0.95">
<path d="M924.6,751 L924.6,772"/>
<path d="M924.6,751 l-5.5,2.6 M924.6,751 l5.2,-3.6 M924.6,751 l1,6" stroke-width="0.8"/>
<path d="M938.4,750 L938.4,772"/>
<path d="M938.4,750 l-5.5,2.6 M938.4,750 l5.2,-3.6 M938.4,750 l1,6" stroke-width="0.8"/>
<path d="M951.4,749 L951.4,772"/>
<path d="M951.4,749 l-5.5,2.6 M951.4,749 l5.2,-3.6 M951.4,749 l1,6" stroke-width="0.8"/>
</g>
<path d="M908,755 Q930,748 962,750" stroke="#E6F4FA" stroke-width="2" opacity="0.5" fill="none"/>
<text class="sans" x="794.5" y="755.9" font-size="14.8" font-weight="700" fill="#FFFFFF" textLength="113" lengthAdjust="spacingAndGlyphs">Grid Tie Inverter</text>
<text class="sans" x="799.6" y="768" font-size="6.6" font-weight="700" fill="#173E9C" textLength="119.4" lengthAdjust="spacingAndGlyphs">1000W  Input 10.5-30VDC Output 180-260VAC</text>
</g></g>
</svg>
</body>
</html>
